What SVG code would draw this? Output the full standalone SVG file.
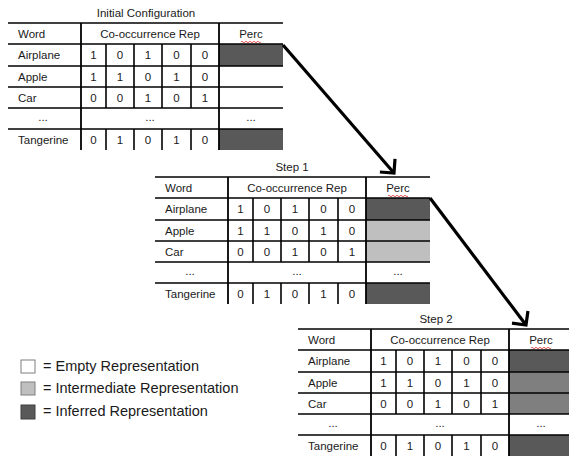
<svg xmlns="http://www.w3.org/2000/svg" xmlns:xlink="http://www.w3.org/1999/xlink" width="569" height="456" viewBox="0 0 569 456">
<style>
  text { font-family: "Liberation Sans", Arial, sans-serif; fill: #1a1a1a; }
  .t { font-size: 11.5px; }
  .c { text-anchor: middle; }
  .title { font-size: 11.5px; text-anchor: middle; }
  .hl { stroke: #000; stroke-width: 1.5; }
  .vl { stroke: #000; stroke-width: 1.8; }
  .vn { stroke: #000; stroke-width: 1.6; }
  .dark { fill: #595959; }
  .light { fill: #bfbfbf; }
  .mid { fill: #7f7f7f; }
  .leg { font-size: 14.5px; }
  .arrow { stroke: #000; stroke-width: 3.2; fill: none; }
  .squig { stroke: #e03030; stroke-width: 0.8; fill: none; }
</style>
<defs>
  <marker id="ah" markerUnits="userSpaceOnUse" markerWidth="30" markerHeight="30" refX="15" refY="15" orient="auto" overflow="visible">
    <path d="M5,5 L15,15 L5,25" stroke="#000" stroke-width="3.2" fill="none" stroke-linejoin="miter"/>
  </marker>
  <g id="grid">
    <line class="hl" x1="0" y1="0" x2="275" y2="0"/>
    <line class="hl" x1="0" y1="21" x2="275" y2="21"/>
    <line class="hl" x1="0" y1="43" x2="275" y2="43"/>
    <line class="hl" x1="0" y1="64" x2="275" y2="64"/>
    <line class="hl" x1="0" y1="85" x2="275" y2="85"/>
    <line class="hl" x1="0" y1="106" x2="275" y2="106"/>
    <line class="vl" x1="73" y1="0" x2="73" y2="127"/>
    <line class="vl" x1="211" y1="0" x2="211" y2="127"/>
    <line class="vn" x1="98" y1="21" x2="98" y2="85"/>
    <line class="vn" x1="126" y1="21" x2="126" y2="85"/>
    <line class="vn" x1="154" y1="21" x2="154" y2="85"/>
    <line class="vn" x1="183" y1="21" x2="183" y2="85"/>
    <line class="vn" x1="98" y1="106" x2="98" y2="127"/>
    <line class="vn" x1="126" y1="106" x2="126" y2="127"/>
    <line class="vn" x1="154" y1="106" x2="154" y2="127"/>
    <line class="vn" x1="183" y1="106" x2="183" y2="127"/>
    <path class="squig" d="M233,19 q1,-1.5 2,0 t2,0 t2,0 t2,0 t2,0 t2,0 t2,0 t2,0 t2,0 t2,0"/>
    <g class="t">
      <text x="10" y="15">Word</text>
      <text class="c" x="142" y="15">Co-occurrence Rep</text>
      <text class="c" x="243" y="15">Perc</text>
      <text x="10" y="36">Airplane</text>
      <text x="10" y="58">Apple</text>
      <text x="10" y="79">Car</text>
      <text class="c" x="35" y="98">...</text>
      <text class="c" x="142" y="98">...</text>
      <text class="c" x="243" y="98">...</text>
      <text x="10" y="121">Tangerine</text>
    </g>
    <g class="t">
      <text class="c" x="85.5" y="36">1</text><text class="c" x="112" y="36">0</text><text class="c" x="140" y="36">1</text><text class="c" x="168.5" y="36">0</text><text class="c" x="197" y="36">0</text>
      <text class="c" x="85.5" y="58">1</text><text class="c" x="112" y="58">1</text><text class="c" x="140" y="58">0</text><text class="c" x="168.5" y="58">1</text><text class="c" x="197" y="58">0</text>
      <text class="c" x="85.5" y="79">0</text><text class="c" x="112" y="79">0</text><text class="c" x="140" y="79">1</text><text class="c" x="168.5" y="79">0</text><text class="c" x="197" y="79">1</text>
      <text class="c" x="85.5" y="121">0</text><text class="c" x="112" y="121">1</text><text class="c" x="140" y="121">0</text><text class="c" x="168.5" y="121">1</text><text class="c" x="197" y="121">0</text>
    </g>
  </g>
</defs>

<g id="initial-configuration">
  <text class="title" x="146" y="17">Initial Configuration</text>
  <g transform="translate(8,23)">
    <rect class="dark" x="211" y="21" width="64" height="22"/>
    <rect class="dark" x="211" y="106" width="64" height="21"/>
    <use xlink:href="#grid"/>
  </g>
</g>

<g id="step-1">
  <text class="title" x="292" y="171">Step 1</text>
  <g transform="translate(155,177)">
    <rect class="dark" x="211" y="21" width="64" height="22"/>
    <rect class="light" x="211" y="43" width="64" height="42"/>
    <rect class="dark" x="211" y="106" width="64" height="21"/>
    <use xlink:href="#grid"/>
  </g>
</g>

<g id="step-2">
  <text class="title" x="436" y="323">Step 2</text>
  <g transform="translate(298,329)">
    <rect class="dark" x="211" y="21" width="64" height="22"/>
    <rect class="mid" x="211" y="43" width="64" height="42"/>
    <rect class="dark" x="211" y="106" width="64" height="21"/>
    <use xlink:href="#grid"/>
  </g>
</g>

<g id="connectors">
  <line class="arrow" x1="283" y1="45" x2="394" y2="173" marker-end="url(#ah)"/>
  <line class="arrow" x1="430" y1="198" x2="526" y2="325" marker-end="url(#ah)"/>
</g>

<g id="legend">
  <rect x="21" y="360" width="14" height="13" fill="#fff" stroke="#7f7f7f" stroke-width="1"/>
  <text class="leg" x="43" y="371">= Empty Representation</text>
  <rect x="21" y="382" width="14" height="13" fill="#bfbfbf" stroke="#7f7f7f" stroke-width="1"/>
  <text class="leg" x="43" y="393">= Intermediate Representation</text>
  <rect x="21" y="405" width="14" height="14" fill="#595959" stroke="#404040" stroke-width="1"/>
  <text class="leg" x="43" y="416">= Inferred Representation</text>
</g>
</svg>
